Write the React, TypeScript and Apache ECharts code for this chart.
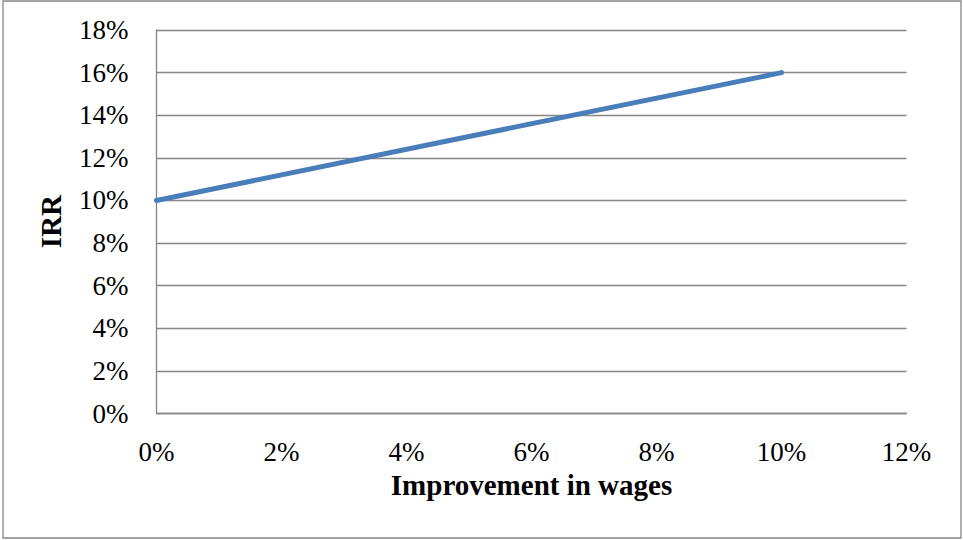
import React, { useEffect, useRef } from "react";
import * as echarts from "echarts";

// Wage improvement (%) vs resulting IRR (%)
const wageImprovement: number[] = [0, 10];
const irrValues: number[] = [10, 16];
const xTicks = { min: 0, max: 12, interval: 2 };
const yTicks = { min: 0, max: 18, interval: 2 };

const FONT = "'Liberation Serif', 'Times New Roman', serif";

export default function App() {
  const ref = useRef<HTMLDivElement>(null);

  useEffect(() => {
    if (!ref.current) return;
    const chart = echarts.init(ref.current, null, { renderer: "svg" });
    chart.setOption({
      animation: false,
      backgroundColor: "#ffffff",
      graphic: [
        {
          type: "rect",
          shape: { x: 3, y: 1, width: 958, height: 537 },
          style: { fill: "none", stroke: "#868686", lineWidth: 1.3 },
          silent: true,
        },
      ],
      grid: { left: 156.5, top: 30, right: 56.5, bottom: 126.5 },
      xAxis: {
        type: "value",
        min: xTicks.min,
        max: xTicks.max,
        interval: xTicks.interval,
        name: "Improvement in wages",
        nameLocation: "middle",
        nameGap: 50,
        nameTextStyle: { fontFamily: FONT, fontSize: 29, fontWeight: "bold", color: "#000" },
        axisLine: { show: true, lineStyle: { color: "#868686", width: 1.3 } },
        axisTick: { show: false },
        splitLine: { show: false },
        axisLabel: {
          formatter: (v: number) => `${v}%`,
          fontFamily: FONT,
          fontSize: 27,
          color: "#000",
          margin: 25,
        },
      },
      yAxis: {
        type: "value",
        min: yTicks.min,
        max: yTicks.max,
        interval: yTicks.interval,
        name: "IRR",
        nameLocation: "middle",
        nameGap: 91,
        nameRotate: 90,
        nameTextStyle: { fontFamily: FONT, fontSize: 29, fontWeight: "bold", color: "#000" },
        axisLine: { show: true, lineStyle: { color: "#868686", width: 1.3 } },
        axisTick: { show: false },
        splitLine: { show: true, lineStyle: { color: "#868686", width: 1.3 } },
        axisLabel: {
          formatter: (v: number) => `${v}%`,
          fontFamily: FONT,
          fontSize: 27,
          color: "#000",
          margin: 28,
        },
      },
      series: [
        {
          type: "line",
          data: wageImprovement.map((x, i) => [x, irrValues[i]]),
          showSymbol: false,
          lineStyle: { color: "#4a7ebb", width: 5, cap: "round" },
          itemStyle: { color: "#4a7ebb" },
        },
      ],
    });
    return () => chart.dispose();
  }, []);

  return (
    <div
      ref={ref}
      style={{ position: "absolute", left: 0, top: 0, width: 963, height: 540 }}
    />
  );
}
